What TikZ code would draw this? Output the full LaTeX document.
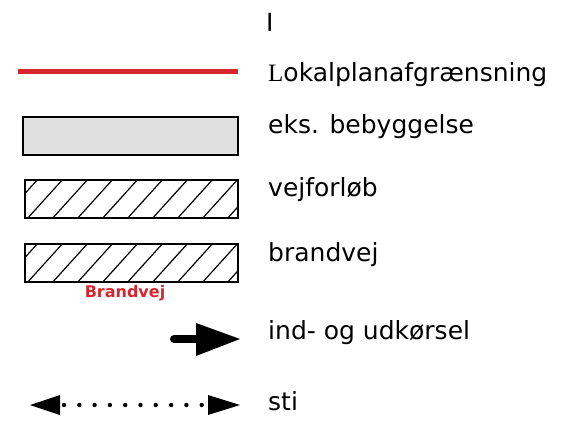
\documentclass[tikz,border=0pt]{standalone}
\usepackage{fontspec}
\setmainfont{DejaVu Sans}
\newfontfamily\serifL{Liberation Serif}
\definecolor{planred}{RGB}{213,38,45}
\definecolor{bebygrey}{RGB}{224,224,224}
\tikzset{
  legtext/.style={anchor=west, inner sep=0pt, font=\fontsize{25}{30}\selectfont},
  legbox/.style={draw, line width=2pt},
  hatchline/.style={line width=1.2pt},
}
\begin{document}
\begin{tikzpicture}[x=1pt, y=-1pt]
      \useasboundingbox (0,0) rectangle (573,422);
      %
      \node[legtext] (head) at (266,22) {I};
      %
      \draw[planred, line width=5pt] (18,72) -- (238,72);     % plan boundary
      \node[legtext] (lokal) at (268,75) {{\serifL L}okalplanafgrænsning};
      %
      \draw[legbox, fill=bebygrey] (23,117) rectangle (238,155);  % existing buildings
      \node[legtext] (eks) at (268,127) {eks. bebyggelse};
      %
      \begin{scope}                                                % road
        \clip (25,180) rectangle (238,218);
        \foreach \i in {0,...,9}
          \draw[hatchline] (1+\i*25,220) -- (39+\i*25,178);
      \end{scope}
      \draw[legbox] (25,180) rectangle (238,218);
      \node[legtext] (vej) at (268,190) {vejforløb};
      %
      \begin{scope}                                                % fire road
        \clip (25,244) rectangle (238,282);
        \foreach \i in {0,...,9}
          \draw[hatchline] (1+\i*25,284) -- (39+\i*25,242);
      \end{scope}
      \draw[legbox] (25,244) rectangle (238,282);
      \node[legtext] (brand) at (268,255) {brandvej};
      \node[font=\bfseries\fontsize{16}{19}\selectfont, text=planred, inner sep=0pt] (brandlbl) at (125,293) {Brandvej};
      %
      \coordinate (indA) at (174,339);                             % entry/exit
      \coordinate (indB) at (199,339);
      \draw[line width=8pt, line cap=round] (indA) -- (indB);
      \fill (196,323) -- (240,339) -- (196,356) -- cycle;
      \node[legtext] (ind) at (268,333) {ind- og udkørsel};
      %
      \fill (30,405) -- (60,395) -- (60,415) -- cycle;             % path
      \fill (240,405) -- (208,395) -- (208,415) -- cycle;
      \foreach \k in {0,...,9}
        \fill (64+\k*15.3,405) circle (2.2);
      \node[legtext] (sti) at (268,401) {sti};
      %
    \end{tikzpicture}
\end{document}
